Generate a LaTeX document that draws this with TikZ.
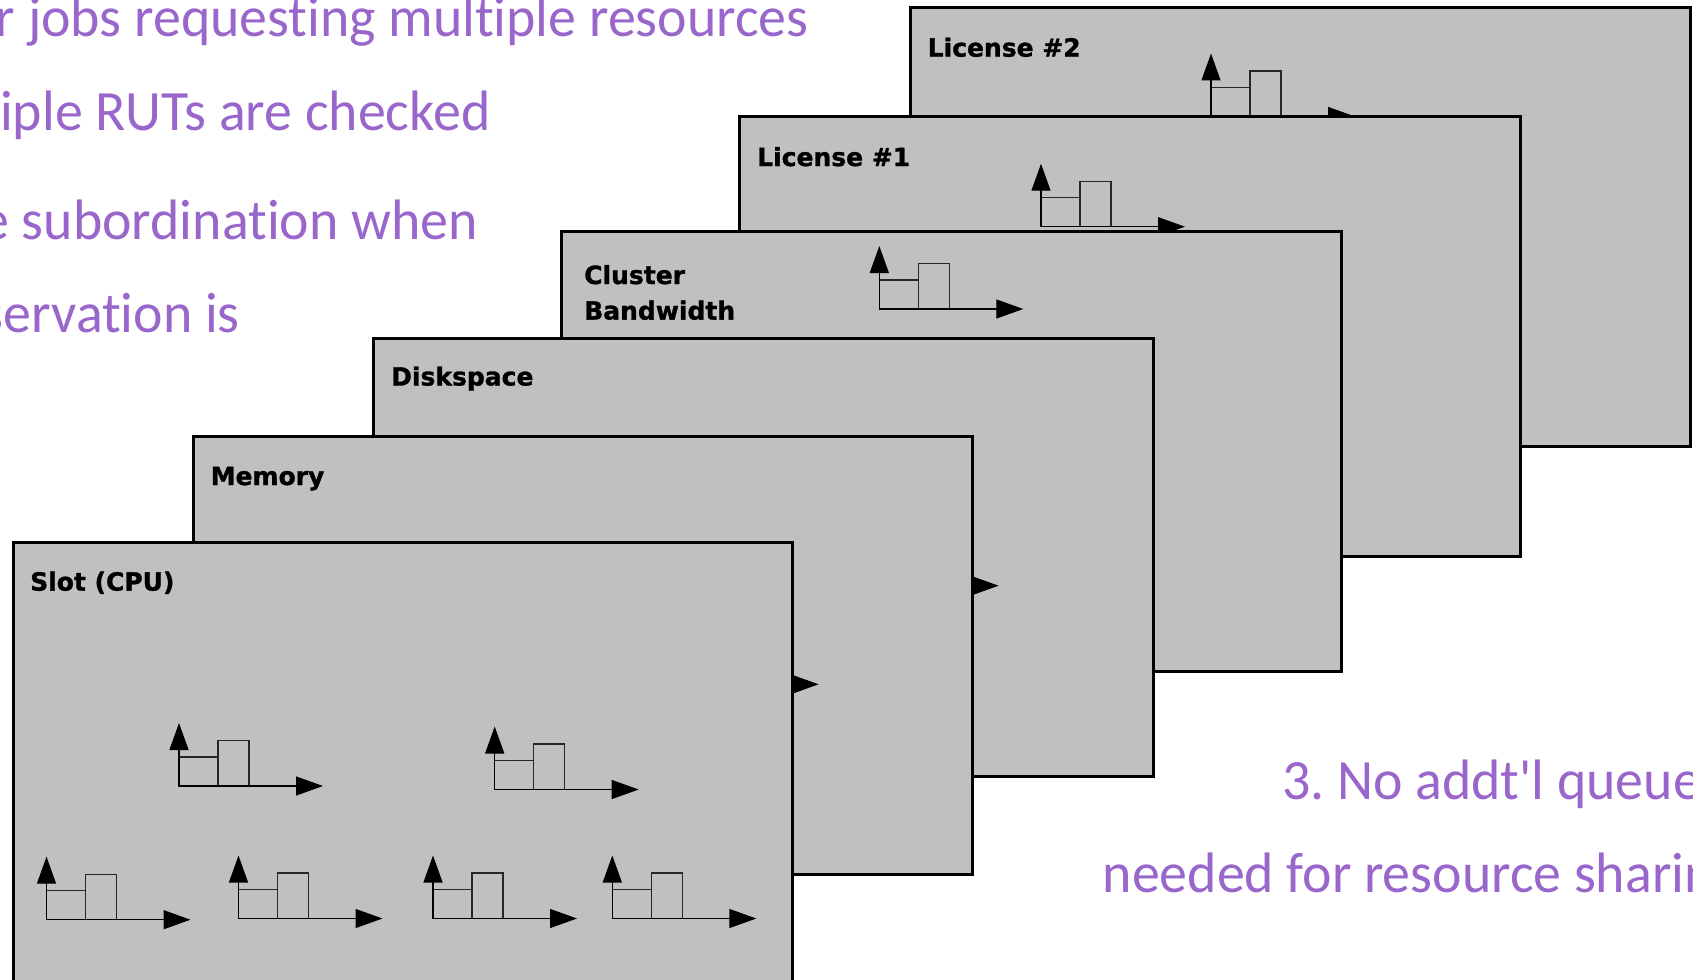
\documentclass[tikz,border=0pt]{standalone}
\usepackage{fontspec}
\newfontfamily\labelfont{DejaVu Sans Bold}[FakeBold=1.2]
\newfontfamily\purplefont{Carlito}[FakeStretch=0.98, Ligatures={NoCommon,NoRare,NoDiscretionary}]
\usetikzlibrary{arrows.meta}
\definecolor{panelgray}{RGB}{192,192,192}
\definecolor{notepurple}{RGB}{153,102,204}
\frenchspacing
\begin{document}
\begin{tikzpicture}[x=1pt,y=-1pt,
  panel/.style={fill=panelgray, draw=black, line width=3pt},
  paneltitle/.style={anchor=base west, inner sep=0pt, font=\labelfont\fontsize{25}{30}\selectfont},
  note/.style={inner sep=0pt, text=notepurple, font=\purplefont\fontsize{57}{68}\selectfont},
  bar/.style={draw=black!85, line width=1.2pt},
  axis/.style={draw=black, line width=1.3pt, -{Triangle[length=27pt,width=19pt]}},
  chart/.pic={
    \draw[bar] (0,0) rectangle (39,-29);
    \draw[bar] (39,0) rectangle (70,-45.5);
    \draw[axis] (0,0) -- (0,-63);
    \draw[axis] (0,0) -- (144,0);
  }]
\fill[white] (0,0) rectangle (1693,979);
\useasboundingbox (0,0) rectangle (1693,979);

% purple notes
\node[note, anchor=base east] (n1) at (808.7,36.7) {r jobs requesting multiple resources};
\node[note, anchor=base east] (n2) at (490.5,130) {iple RUTs are checked};
\node[note, anchor=base east] (n3) at (478,239.3) {e subordination when};
\node[note, anchor=base east] (n4) at (240,332.7) {servation is};
\node[note, anchor=base west] (n5) at (1282,799.3) {3. No addt'l queue};
\node[note, anchor=base west] (n6) at (1102.5,892.7) {needed for resource sharin};

% License #2
\path[panel] (910,7.6) rectangle (1690,446);
\pic at (1211,116.5) {chart};
\node[paneltitle] (lic2) at (927.5,56.6) {License \#2};

% License #1
\path[panel] (739.6,116.6) rectangle (1520,556);
\pic at (1041,226.7) {chart};
\node[paneltitle] (lic1) at (757,166) {License \#1};

% Cluster Bandwidth
\path[panel] (561.4,231.3) rectangle (1341,671.6);
\pic at (879.3,309) {chart};
\node[paneltitle] (cb1) at (584,284) {Cluster};
\node[paneltitle] (cb2) at (584,319.6) {Bandwidth};

% Diskspace
\path[panel] (373.6,338) rectangle (1153,776);
\pic at (854.6,585.7) {chart};
\node[paneltitle] (disk) at (391,385.5) {Diskspace};

% Memory
\path[panel] (193.3,436) rectangle (972.8,874.5);
\pic at (674.6,684.3) {chart};
\node[paneltitle] (mem) at (210.5,485) {Memory};

% Slot (CPU)
\path[panel] (13,542) rectangle (792.5,1000);
\node[paneltitle] (slot) at (30,590.6) {Slot (CPU)};
\pic at (179,786) {chart};
\pic at (494.7,789.5) {chart};
\pic at (46.5,919.7) {chart};
\pic at (238.5,918.5) {chart};
\pic at (433,918.5) {chart};
\pic at (612.3,918.5) {chart};
\end{tikzpicture}
\end{document}
